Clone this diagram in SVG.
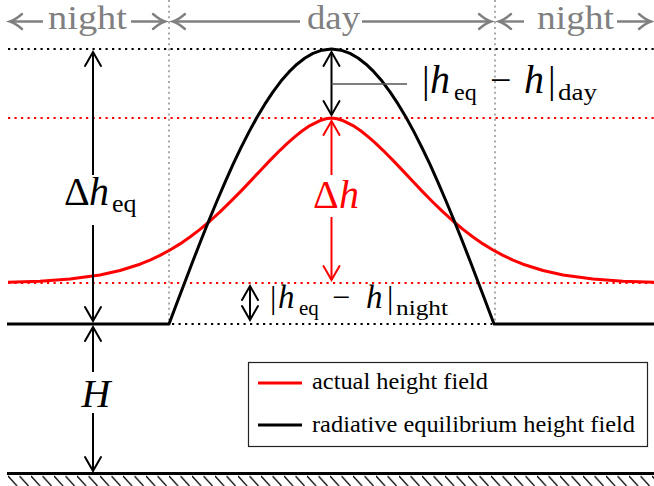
<svg xmlns="http://www.w3.org/2000/svg" width="654" height="486" viewBox="0 0 654 486">
<defs>
<marker id="ah" viewBox="-16 -10 20 20" refX="0" refY="0" markerWidth="20" markerHeight="20" markerUnits="userSpaceOnUse" orient="auto-start-reverse" overflow="visible">
<path d="M-14,-8 L0,0 L-14,8" fill="none" stroke="#000" stroke-width="2" stroke-linecap="round"/>
</marker>
<marker id="ahr" viewBox="-16 -10 20 20" refX="0" refY="0" markerWidth="20" markerHeight="20" markerUnits="userSpaceOnUse" orient="auto-start-reverse" overflow="visible">
<path d="M-14,-8 L0,0 L-14,8" fill="none" stroke="#f00" stroke-width="2" stroke-linecap="round"/>
</marker>
<marker id="ag" viewBox="-16 -10 20 20" refX="0" refY="0" markerWidth="20" markerHeight="20" markerUnits="userSpaceOnUse" orient="auto-start-reverse" overflow="visible">
<path d="M-12,-7.5 Q-5,-1.5 0,0 Q-5,1.5 -12,7.5" fill="none" stroke="#808080" stroke-width="2.4" stroke-linecap="round"/>
</marker>
<pattern id="hatch" x="8" y="475" width="11.5" height="11" patternUnits="userSpaceOnUse">
<line x1="0" y1="1" x2="9" y2="11" stroke="#000" stroke-width="1.2"/>
</pattern>
<style>
.dotk{stroke:#000;stroke-width:2.2;stroke-dasharray:2.2 4.3;fill:none}
.dotr{stroke:#f00;stroke-width:2.2;stroke-dasharray:2.2 4.3;fill:none}
.dotg{stroke:#aaa;stroke-width:2;stroke-dasharray:2 3.4;fill:none}
.arr{stroke:#000;stroke-width:2;fill:none}
.arrr{stroke:#f00;stroke-width:2;fill:none}
.garr{stroke:#808080;stroke-width:2.4;fill:none;marker-end:url(#ag)}
.top{font-size:34px;fill:#808080}
.it{font-style:italic}
.red{fill:#f00}
.leg{font-size:23px;fill:#000}
</style>
</defs>
<rect width="654" height="486" fill="#fff"/>

<g id="guides">
<line class="dotg" x1="169" y1="0" x2="169" y2="322"/>
<line class="dotg" x1="495" y1="0" x2="495" y2="322"/>
<line class="dotk" x1="8" y1="49" x2="654" y2="49"/>
<line class="dotr" x1="8" y1="118" x2="654" y2="118"/>
<line class="dotr" x1="8" y1="283" x2="654" y2="283"/>
<line class="dotk" x1="172" y1="324" x2="492" y2="324"/>
</g>

<g id="ground">
<line x1="7" y1="473.5" x2="654" y2="473.5" stroke="#000" stroke-width="3"/>
<rect x="8" y="475" width="646" height="11" fill="url(#hatch)"/>
</g>

<g id="red-curve">
<polyline fill="none" stroke="#f00" stroke-width="3" stroke-linejoin="round" points="8,282.3 40,281.2 70,279.1 100,275.0 120,270.5 140,264.2 150,260.1 160,255.4 170,250.0 180,243.9 190,237.0 200,229.4 210,221.0 220,211.9 230,202.2 240,192.1 250,181.6 260,170.9 270,160.4 280,150.3 287,143.6 295,136.6 302,131.0 310,125.6 320,120.6 326,118.7 331.5,118 337,118.7 343,120.6 353,125.6 361,131.0 368,136.6 376,143.6 383,150.3 393,160.4 403,170.9 413,181.6 423,192.1 433,202.2 443,211.9 453,221.0 463,229.4 473,237.0 483,243.9 493,250.0 503,255.4 513,260.1 523,264.2 543,270.5 563,275.0 593,279.1 623,281.2 655,282.3"/>
</g>

<g id="black-curve">
<polyline fill="none" stroke="#000" stroke-width="3" stroke-linejoin="round" points="7,324 169,324 177,302.7 185,281.7 193,260.8 201,240.3 209,220.3 217,201.0 225,182.3 233,164.4 241,147.7 249,131.9 257,117.3 265,103.9 273,91.8 281,81.1 289,71.9 297,64.2 305,58.0 313,53.4 322,50.2 331.5,49 341,50.2 350,53.4 358,58.0 366,64.2 374,71.9 382,81.1 390,91.8 398,103.9 406,117.3 414,131.9 422,147.7 430,164.4 438,182.3 446,201.0 454,220.3 462,240.3 470,260.8 478,281.7 486,302.7 494,324 655,324"/>
</g>

<g id="connectors">
<line class="arr" x1="93" y1="52" x2="93" y2="175" marker-start="url(#ah)"/>
<line class="arr" x1="93" y1="225" x2="93" y2="321" marker-end="url(#ah)"/>
<line class="arr" x1="93" y1="327" x2="93" y2="372" marker-start="url(#ah)"/>
<line class="arr" x1="93" y1="413" x2="93" y2="471" marker-end="url(#ah)"/>
<line class="arr" x1="331.5" y1="52" x2="331.5" y2="115" marker-start="url(#ah)" marker-end="url(#ah)"/>
<line x1="331.5" y1="84" x2="407" y2="84" stroke="#555" stroke-width="1.5"/>
<line class="arrr" x1="331.5" y1="121" x2="331.5" y2="175" marker-start="url(#ahr)"/>
<line class="arrr" x1="331.5" y1="217" x2="331.5" y2="280" marker-end="url(#ahr)"/>
<line class="arr" x1="250" y1="286" x2="250" y2="320" marker-start="url(#ah)" marker-end="url(#ah)"/>
<line class="garr" x1="43" y1="21.5" x2="10" y2="21.5"/>
<line class="garr" x1="131" y1="21.5" x2="165" y2="21.5"/>
<line class="garr" x1="300" y1="21.5" x2="173" y2="21.5"/>
<line class="garr" x1="362" y1="21.5" x2="491" y2="21.5"/>
<line class="garr" x1="524" y1="21.5" x2="499" y2="21.5"/>
<line class="garr" x1="617" y1="21.5" x2="651" y2="21.5"/>
</g>

<g font-family="'Liberation Serif', 'DejaVu Serif', 'Times New Roman', serif">
<g id="top-labels">
<text class="top" x="48" y="29" textLength="79" lengthAdjust="spacingAndGlyphs">night</text>
<text class="top" x="307" y="29" textLength="53" lengthAdjust="spacingAndGlyphs">day</text>
<text class="top" x="537" y="29" textLength="77" lengthAdjust="spacingAndGlyphs">night</text>
</g>

<g id="label-dheq">
<text font-size="40" x="64" y="205">Δ</text>
<text class="it" font-size="40" x="89" y="205">h</text>
<text font-size="26" x="112" y="212">eq</text>
</g>

<g id="label-H">
<text class="it" font-size="40" x="96" y="407" text-anchor="middle">H</text>
</g>

<g id="label-dh">
<text class="red" font-size="40" x="313" y="208">Δ</text>
<text class="it red" font-size="40" x="339" y="208">h</text>
</g>

<g id="label-day">
<text font-size="38" x="422" y="93">|</text>
<text class="it" font-size="40" x="430" y="93">h</text>
<text font-size="24" x="454" y="100">eq</text>
<text font-size="38" x="490" y="93">−</text>
<text class="it" font-size="40" x="524" y="93">h</text>
<text font-size="38" x="548" y="93">|</text>
<text font-size="24" x="558" y="100" textLength="39" lengthAdjust="spacingAndGlyphs">day</text>
</g>

<g id="label-night">
<text font-size="32" x="270" y="308">|</text>
<text class="it" font-size="33" x="278" y="308">h</text>
<text font-size="21" x="299" y="315">eq</text>
<text font-size="32" x="332" y="308">−</text>
<text class="it" font-size="33" x="366" y="308">h</text>
<text font-size="32" x="387" y="308">|</text>
<text font-size="21" x="396" y="315" textLength="52" lengthAdjust="spacingAndGlyphs">night</text>
</g>

<g id="legend">
<rect x="248.5" y="362.5" width="399" height="84" fill="#fff" stroke="#222" stroke-width="1.2"/>
<line x1="258" y1="383" x2="302" y2="383" stroke="#f00" stroke-width="3"/>
<line x1="258" y1="425" x2="302" y2="425" stroke="#000" stroke-width="3"/>
<text class="leg" x="312" y="389" textLength="176" lengthAdjust="spacingAndGlyphs">actual height field</text>
<text class="leg" x="312" y="432" textLength="323" lengthAdjust="spacingAndGlyphs">radiative equilibrium height field</text>
</g>
</g>
</svg>
